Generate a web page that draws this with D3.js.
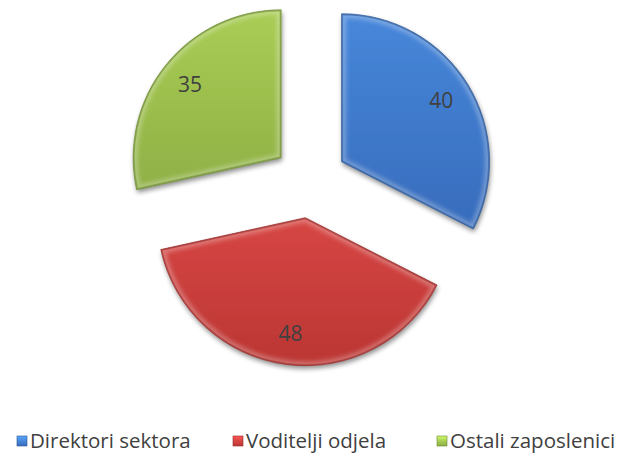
<!DOCTYPE html>
<html><head><meta charset="utf-8">
<script src="https://cdn.jsdelivr.net/npm/d3@7"></script>
<style>html,body{margin:0;padding:0;background:#fff;}svg{display:block;}</style>
</head><body>
<svg id="chart" width="620" height="457"></svg>
<script>
const categories = ["Direktori sektora", "Voditelji odjela", "Ostali zaposlenici"];
const values = [40, 48, 35];
const colorsTop = ["#4787da", "#d64644", "#a9cd55"];
const colorsBottom = ["#386cbc", "#bb3633", "#8fb046"];
const edgeColors = ["#2a5592", "#932a28", "#6a8830"];

const svg = d3.select("#chart");
const cx = 310, cy = 181, R = 148, explode = 37;

const defs = svg.append("defs");
const shadow = defs.append("filter").attr("id", "shadow").attr("x", "-20%").attr("y", "-20%").attr("width", "140%").attr("height", "140%");
shadow.append("feGaussianBlur").attr("in", "SourceAlpha").attr("stdDeviation", 2.5).attr("result", "b");
shadow.append("feOffset").attr("in", "b").attr("dx", 1).attr("dy", 3).attr("result", "o");
shadow.append("feComponentTransfer").attr("in", "o").attr("result", "s").append("feFuncA").attr("type", "linear").attr("slope", 0.45);
const m = shadow.append("feMerge");
m.append("feMergeNode").attr("in", "s");
m.append("feMergeNode").attr("in", "SourceGraphic");

const blur = defs.append("filter").attr("id", "blur");
blur.append("feGaussianBlur").attr("stdDeviation", 2);

categories.forEach((c, i) => {
  const g = defs.append("linearGradient").attr("id", "grad" + i).attr("x1", 0).attr("y1", 0).attr("x2", 0).attr("y2", 1);
  g.append("stop").attr("offset", "0%").attr("stop-color", colorsTop[i]);
  g.append("stop").attr("offset", "100%").attr("stop-color", colorsBottom[i]);
  const lg = defs.append("linearGradient").attr("id", "lgrad" + i).attr("x1", 0).attr("y1", 0).attr("x2", 0).attr("y2", 1);
  lg.append("stop").attr("offset", "0%").attr("stop-color", d3.color(colorsTop[i]).brighter(0.6));
  lg.append("stop").attr("offset", "50%").attr("stop-color", colorsTop[i]);
  lg.append("stop").attr("offset", "100%").attr("stop-color", colorsBottom[i]);
});

const pie = d3.pie().sort(null).value(d => d);
const arcs = pie(values);
const arc = d3.arc().innerRadius(0).outerRadius(R);
const labelArc = d3.arc().innerRadius(R * 0.79).outerRadius(R * 0.79);

const slices = svg.append("g");
arcs.forEach((a, i) => {
  const mid = (a.startAngle + a.endAngle) / 2;
  const dx = explode * Math.sin(mid), dy = -explode * Math.cos(mid);
  const g = slices.append("g").attr("transform", `translate(${cx + dx},${cy + dy})`);
  const p = arc(a);
  defs.append("clipPath").attr("id", "clip" + i).append("path").attr("d", p);
  g.append("path").attr("d", p).attr("fill", `url(#grad${i})`).attr("filter", "url(#shadow)");
  const rim = g.append("g").attr("clip-path", `url(#clip${i})`);
  rim.append("path").attr("d", p).attr("fill", "none").attr("stroke", "#fff").attr("stroke-opacity", 0.28).attr("stroke-width", 9).attr("filter", "url(#blur)");
  rim.append("path").attr("d", p).attr("fill", "none").attr("stroke", edgeColors[i]).attr("stroke-opacity", 0.55).attr("stroke-width", 3);
  g.append("path").attr("d", p).attr("fill", "none").attr("stroke", edgeColors[i]).attr("stroke-width", 0.8).attr("stroke-opacity", 0.8);
  const [lx, ly] = labelArc.centroid(a);
  g.append("text").attr("x", lx).attr("y", ly).attr("dy", "0.35em").attr("text-anchor", "middle")
    .attr("font-family", "'Open Sans', sans-serif").attr("font-size", 21).attr("fill", "#404040").text(values[i]);
});

// legend
const legendX = [17, 233, 437];
const legend = svg.append("g");
categories.forEach((c, i) => {
  const g = legend.append("g").attr("transform", `translate(${legendX[i]},436)`);
  g.append("rect").attr("x", 0).attr("y", 0).attr("width", 10).attr("height", 10)
    .attr("fill", `url(#lgrad${i})`).attr("stroke", edgeColors[i]).attr("stroke-width", 0.6);
  g.append("text").attr("x", 13).attr("y", 5).attr("dy", "0.36em")
    .attr("font-family", "'Open Sans', sans-serif").attr("font-size", 20.5).attr("fill", "#404040").text(c);
});
</script>
</body></html>
